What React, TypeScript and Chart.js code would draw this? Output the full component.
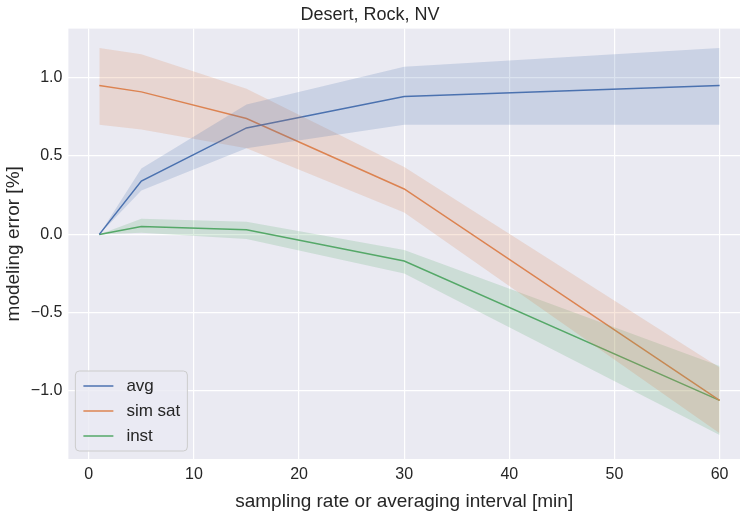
import { useEffect, useRef } from 'react'
import Chart from 'chart.js/auto'

const xValues = [1, 5, 15, 30, 60]

const avgMean = [0, 0.34, 0.68, 0.88, 0.95]
const avgUpper = [0, 0.42, 0.83, 1.07, 1.19]
const avgLower = [0, 0.28, 0.55, 0.7, 0.7]

const simMean = [0.95, 0.91, 0.74, 0.29, -1.06]
const simUpper = [1.19, 1.15, 0.93, 0.43, -0.85]
const simLower = [0.7, 0.67, 0.55, 0.14, -1.27]

const instMean = [0, 0.05, 0.03, -0.17, -1.06]
const instUpper = [0, 0.1, 0.08, -0.1, -0.84]
const instLower = [0, 0.01, -0.03, -0.25, -1.28]

const seriesNames = ['avg', 'sim sat', 'inst']
const seriesColors = ['#4c72b0', '#dd8452', '#55a868']
const bandColors = ['rgba(76,114,176,0.2)', 'rgba(221,132,82,0.2)', 'rgba(85,168,104,0.2)']

const FONT = 'Arial, "Liberation Sans", sans-serif'

const toPoints = (ys: number[]) => xValues.map((x, i) => ({ x, y: ys[i] }))

const bgPlugin = {
  id: 'bg',
  beforeDraw(chart: Chart) {
    const { ctx, chartArea } = chart
    ctx.save()
    ctx.fillStyle = '#eaeaf2'
    ctx.fillRect(chartArea.left, chartArea.top, chartArea.width, chartArea.height)
    ctx.restore()
  },
}

const legendPlugin = {
  id: 'innerLegend',
  afterDraw(chart: Chart) {
    const { ctx, chartArea } = chart
    const x = chartArea.left + 7
    const y = chartArea.bottom - 88
    ctx.save()
    ctx.fillStyle = 'rgba(234,234,242,0.8)'
    ctx.strokeStyle = '#cccccc'
    ctx.lineWidth = 1
    ctx.beginPath()
    ctx.roundRect(x, y, 112, 80, 4)
    ctx.fill()
    ctx.stroke()
    ctx.font = `17px ${FONT}`
    ctx.textBaseline = 'middle'
    seriesNames.forEach((name, i) => {
      const cy = y + 15 + i * 25
      ctx.strokeStyle = seriesColors[i]
      ctx.lineWidth = 1.5
      ctx.beginPath()
      ctx.moveTo(x + 8, cy)
      ctx.lineTo(x + 38, cy)
      ctx.stroke()
      ctx.fillStyle = '#262626'
      ctx.fillText(name, x + 51, cy)
    })
    ctx.restore()
  },
}

function App() {
  const canvasRef = useRef<HTMLCanvasElement | null>(null)

  useEffect(() => {
    if (!canvasRef.current) return undefined
    const bands = [
      [avgUpper, avgLower],
      [simUpper, simLower],
      [instUpper, instLower],
    ]
    const means = [avgMean, simMean, instMean]
    const datasets: any[] = []
    bands.forEach(([up, lo], i) => {
      datasets.push({
        data: toPoints(up),
        borderWidth: 0,
        pointRadius: 0,
        backgroundColor: bandColors[i],
        fill: '+1',
      })
      datasets.push({ data: toPoints(lo), borderWidth: 0, pointRadius: 0, fill: false })
    })
    means.forEach((m, i) => {
      datasets.push({
        label: seriesNames[i],
        data: toPoints(m),
        borderColor: seriesColors[i],
        borderWidth: 1.5,
        pointRadius: 0,
        fill: false,
      })
    })

    const chart = new Chart(canvasRef.current, {
      type: 'line',
      data: { datasets },
      plugins: [bgPlugin, legendPlugin],
      options: {
        animation: false,
        responsive: false,
        layout: { padding: { top: 0, right: 7, left: 0, bottom: 0 } },
        plugins: {
          legend: { display: false },
          tooltip: { enabled: false },
          title: {
            display: true,
            text: 'Desert, Rock, NV',
            color: '#262626',
            font: { family: FONT, size: 18, weight: 'normal' },
            padding: { top: 4, bottom: 3 },
          },
        },
        scales: {
          x: {
            type: 'linear',
            min: -1.94,
            max: 61.94,
            border: { display: false },
            grid: { color: '#ffffff', lineWidth: 1.2, drawTicks: false },
            afterBuildTicks: (axis: any) => {
              axis.ticks = [0, 10, 20, 30, 40, 50, 60].map((v) => ({ value: v }))
            },
            ticks: { color: '#262626', font: { family: FONT, size: 16 }, padding: 6 },
            title: {
              display: true,
              text: 'sampling rate or averaging interval [min]',
              color: '#262626',
              font: { family: FONT, size: 19 },
              padding: { top: 0, bottom: 2 },
            },
          },
          y: {
            min: -1.434,
            max: 1.314,
            border: { display: false },
            grid: { color: '#ffffff', lineWidth: 1.2, drawTicks: false },
            afterBuildTicks: (axis: any) => {
              axis.ticks = [-1, -0.5, 0, 0.5, 1].map((v) => ({ value: v }))
            },
            ticks: {
              color: '#262626',
              font: { family: FONT, size: 16 },
              padding: 6,
              callback: (v: any) => Number(v).toFixed(1).replace('-', '\u2212'),
            },
            title: {
              display: true,
              text: 'modeling error [%]',
              color: '#262626',
              font: { family: FONT, size: 19 },
              padding: { top: 2, bottom: 0 },
            },
          },
        },
      },
    })
    return () => chart.destroy()
  }, [])

  return (
    <div style={{ position: 'absolute', top: 0, left: 0, background: '#ffffff' }}>
      <canvas ref={canvasRef} width={747} height={515} style={{ display: 'block' }} />
    </div>
  )
}

export default App
